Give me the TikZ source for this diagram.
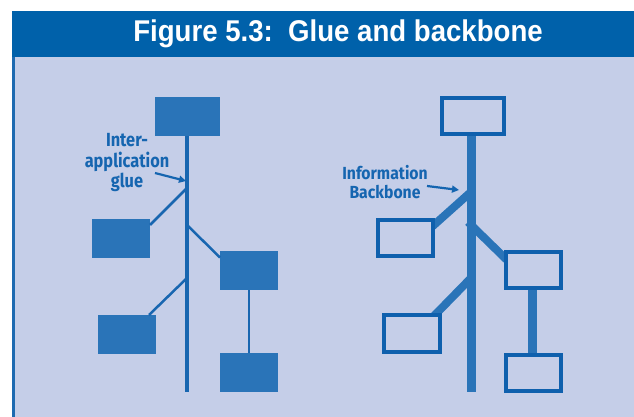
\documentclass[tikz,border=0pt]{standalone}
\usepackage{fontspec}
\setmainfont{Liberation Sans}
\newfontfamily\labelfont{Fira Sans}
\usetikzlibrary{arrows.meta}
\definecolor{hdr}{HTML}{0061AA}
\definecolor{panel}{HTML}{C5CEE8}
\definecolor{edgeblue}{HTML}{1E6AB0}
\definecolor{boxfill}{HTML}{2A74B8}
\definecolor{linec}{HTML}{1866B0}
\definecolor{outline}{HTML}{0F60AD}
\definecolor{labelc}{HTML}{1565B0}
\tikzset{
  title/.style={text=white, font=\bfseries\fontsize{30}{32}\selectfont, xscale=0.92, anchor=base},
  solidbox/.style={fill=boxfill, draw=none, minimum width=58pt, minimum height=39pt, inner sep=0pt},
  openbox/.style={fill=panel, draw=outline, line width=4pt, minimum width=55pt, minimum height=36pt, inner sep=0pt},
  thinlink/.style={draw=linec, line width=2.5pt},
  thintrunk/.style={draw=linec, line width=3.5pt},
  thicklink/.style={draw=boxfill, line width=8pt},
  thicktrunk/.style={draw=boxfill, line width=9pt},
  callout/.style={text=labelc, align=center},
  pointer/.style={draw=labelc, line width=2.2pt, -{Triangle[length=7pt,width=7pt]}},
}
\begin{document}
\begin{tikzpicture}[x=1pt,y=-1pt]
\useasboundingbox (0,0) rectangle (634,417);
\fill[white] (0,0) rectangle (634,417);
% frame: header band, light panel, left rule
\fill[hdr] (12,11) rectangle (634,57);
\fill[panel] (15,57) rectangle (634,417);
\fill[edgeblue] (12,57) rectangle (15,417);
\node[title] (T) at (338,42) {Figure 5.3:\ \ Glue and backbone};

% ---- left: application glue ----
\node[solidbox, minimum width=65pt] (L1) at (187,116.5) {};
\node[solidbox] (L2) at (121,238.5) {};
\node[solidbox] (L3) at (249,270.5) {};
\node[solidbox] (L4) at (127,334.5) {};
\node[solidbox] (L5) at (249,372.5) {};
\coordinate (Lend) at (187,392);
\coordinate (Lj1) at (187,188);
\coordinate (Lj2) at (187,225);
\coordinate (Lj3) at (187,278);
\coordinate (Le1) at (150,225);
\coordinate (Le2) at (220,257.5);
\coordinate (Le3) at (149,315);
\draw[thintrunk] (L1.south) -- (Lend);
\draw[thinlink] (Lj1) -- (Le1);
\draw[thinlink] (Lj2) -- (Le2);
\draw[thinlink] (Lj3) -- (Le3);
\draw[thinlink] (L3.south) -- (L5.north);

\node[callout, xscale=0.86, font=\labelfont\bfseries\fontsize{19}{20.5}\selectfont] (glue) at (127,163) {Inter-\\application\\glue};
\coordinate (ga) at (155,173);
\coordinate (gt) at (186,181);
\draw[pointer] (ga) -- (gt);

% ---- right: information backbone ----
\coordinate (Rend) at (471.5,392);
\coordinate (Rb1a) at (472,191);
\coordinate (Rb1b) at (425,233);
\coordinate (Rb2a) at (468,222);
\coordinate (Rb2b) at (510,263);
\coordinate (Rb3a) at (472,277);
\coordinate (Rb3b) at (430,320);
\draw[thicklink] (Rb1a) -- (Rb1b);
\draw[thicklink] (Rb2a) -- (Rb2b);
\draw[thicklink] (Rb3a) -- (Rb3b);
\draw[thicktrunk] (471.5,136) -- (Rend);
\draw[thicktrunk] (532,290) -- (532,353);
\node[openbox, minimum width=62pt] (R1) at (473,116) {};
\node[openbox] (R2) at (405.5,238) {};
\node[openbox] (R3) at (533.5,270) {};
\node[openbox, minimum width=56pt, minimum height=37pt] (R4) at (412,333.5) {};
\node[openbox] (R5) at (533.5,373) {};

\node[callout, xscale=0.9, font=\labelfont\bfseries\fontsize{17.5}{18.5}\selectfont] (bb) at (385,182) {Information\\Backbone};
\coordinate (ba) at (427,186);
\coordinate (bt) at (459,190);
\draw[pointer] (ba) -- (bt);
\end{tikzpicture}
\end{document}
